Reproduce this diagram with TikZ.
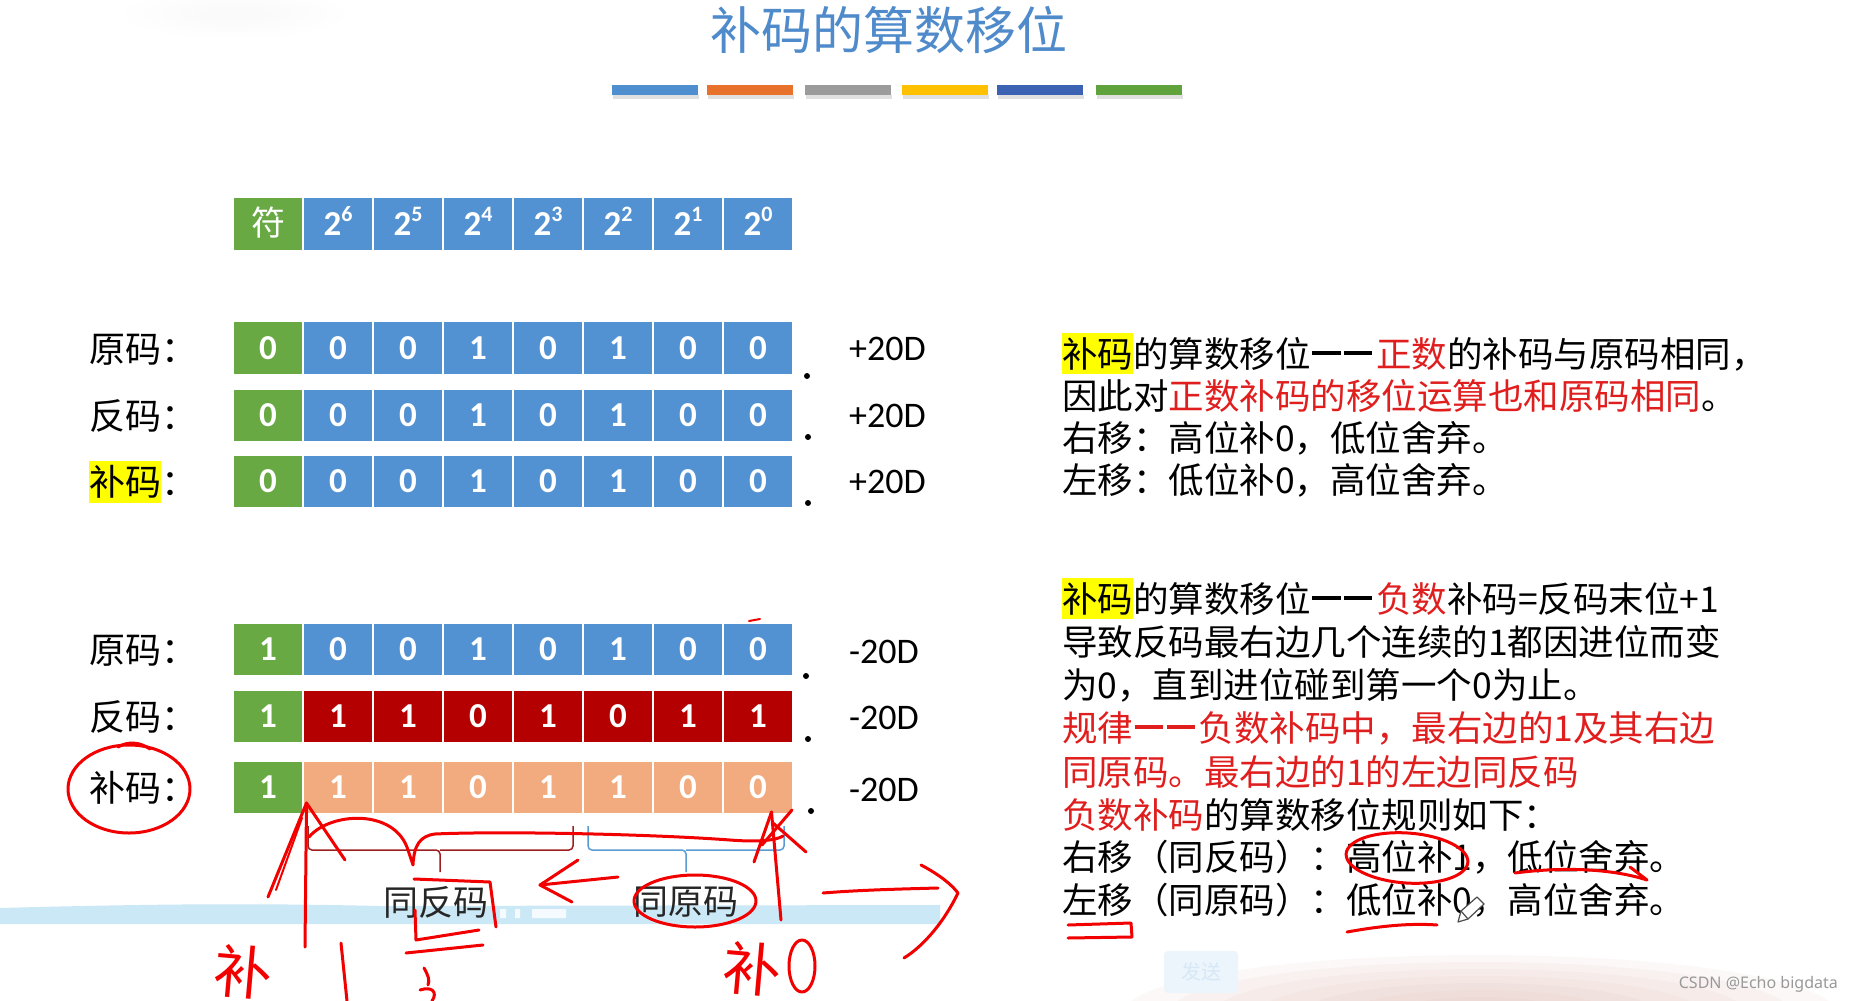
\documentclass[tikz,border=0pt]{standalone}
\usepackage{fontspec}
\setmainfont{Carlito}
\newfontfamily\cjk{Noto Sans CJK SC}
\newfontfamily\wmfont{Noto Sans}
\definecolor{cgreen}{HTML}{68A944}
\definecolor{cblue}{HTML}{5392D2}
\definecolor{cdred}{HTML}{B40000}
\definecolor{corange}{HTML}{F1AB7F}
\definecolor{titleblue}{HTML}{4F8BCB}
\definecolor{hly}{HTML}{FFFF00}
\definecolor{txtred}{HTML}{E01E1E}
\definecolor{annred}{HTML}{F20000}
\definecolor{bandblue}{HTML}{CBE8F6}
\definecolor{pinkblur}{HTML}{E2BDB3}
\definecolor{bracered}{HTML}{9E1F1F}
\definecolor{braceblue}{HTML}{5B9BD5}
\definecolor{bar1}{HTML}{4F8FD0}
\definecolor{bar2}{HTML}{E8722B}
\definecolor{bar3}{HTML}{9B9B9B}
\definecolor{bar4}{HTML}{FFC000}
\definecolor{bar5}{HTML}{3B62B3}
\definecolor{bar6}{HTML}{60A33D}
\newcommand\hlbox[1]{{\setlength{\fboxsep}{0pt}\colorbox{hly}{\rule[-0.2em]{0pt}{1.15em}#1}}}
\newcommand\rd[1]{\textcolor{txtred}{#1}}
\newcommand\ddash{\hspace{0.04em}\rule[0.33em]{0.8em}{0.11em}\hspace{0.1em}\rule[0.33em]{0.8em}{0.11em}\hspace{0.1em}}
\newcommand\bitrow[5]{%
  \node[cell, fill=cgreen] (#1c0) at (268,#2) {#4};
  \foreach \v [count=\i] in {#5} {\node[cell, fill=#3] (#1c\i) at ({268+70*\i},#2) {\v};}
}
\tikzset{
  cell/.style={rectangle, draw=white, line width=1.2pt, minimum width=70pt, minimum height=53pt,
    inner sep=0pt, text=white, text height=22pt, text depth=0pt, font=\bfseries\fontsize{35}{35}\selectfont},
  lab/.style={anchor=base west, inner sep=0pt, font=\cjk\fontsize{36}{40}\selectfont},
  val/.style={anchor=base west, inner sep=0pt, font=\fontsize{36}{40}\selectfont},
  txtline/.style={anchor=base west, inner sep=0pt, font=\cjk\fontsize{35.5}{40}\selectfont},
  dotm/.style={circle, fill=black, inner sep=0pt, minimum size=6pt},
  bracelab/.style={inner sep=0pt, font=\cjk\fontsize{35}{40}\selectfont, text=black!85},
  ann/.style={draw=annred, line width=3pt, line cap=round, line join=round},
  hand/.style={inner sep=0pt, text=annred, font=\cjk\fontsize{58}{60}\selectfont},
}
\begin{document}
\begin{tikzpicture}[x=1pt,y=-1pt]
\useasboundingbox (0,0) rectangle (1853,1001);
\fill[white] (0,0) rectangle (1853,1001);
% faint smudge top-left
\foreach \r in {1,...,5}{\fill[black, opacity=0.005] (235,14) ellipse [x radius=20+18*\r, y radius=4+4*\r];}
% pink blur bottom right
\foreach \r in {1,...,7}{\fill[pinkblur, opacity=0.10] (1480,1012) ellipse [x radius=40+45*\r, y radius=8+7*\r];}
% faint button
\node[fill={rgb,255:red,236;green,245;blue,252}, rounded corners=4pt, minimum width=74pt, minimum height=42pt,
  text={rgb,255:red,214;green,231;blue,246}, font=\cjk\fontsize{20}{22}\selectfont] (send) at (1201,972) {发送};

% title
\node[font=\cjk\fontsize{51}{55}\selectfont, text=titleblue, inner sep=0pt] (title) at (889,30) {补码的算数移位};
% colour bars
\foreach \x/\c in {612/bar1,707/bar2,805/bar3,902/bar4,997/bar5,1096/bar6}
  {\fill[black!12] (\x+1,95) rectangle (\x+87,99); \fill[\c] (\x,85) rectangle (\x+86,95);}

% header row
\node[cell, fill=cgreen, font=\cjk\fontsize{34}{34}\selectfont] (hc0) at (268,224) {符};
\foreach \e [count=\i] in {6,5,4,3,2,1,0}
  {\node[cell, fill=cblue] (hc\i) at ({268+70*\i},224) {2\raisebox{0.4em}{\fontsize{22}{22}\selectfont\e}};}

% bit rows
\bitrow{ra}{348}{cblue}{0}{0,0,1,0,1,0,0}
\bitrow{rb}{415.5}{cblue}{0}{0,0,1,0,1,0,0}
\bitrow{rc}{481.5}{cblue}{0}{0,0,1,0,1,0,0}
\bitrow{rd}{649.5}{cblue}{1}{0,0,1,0,1,0,0}
\bitrow{re}{716.5}{cdred}{1}{1,1,0,1,0,1,1}
\bitrow{rf}{787.5}{corange}{1}{1,1,0,1,1,0,0}

% row labels
\node[lab] (la) at (89,362) {原码：};
\node[lab] (lb) at (89,429.5) {反码：};
\node[lab] (lc) at (89,495.5) {\hlbox{补码}：};
\node[lab] (ld) at (89,663.5) {原码：};
\node[lab] (le) at (89,730.5) {反码：};
\node[lab] (lf) at (89,801.5) {补码：};

% dots
\node[dotm] (da) at (807,376) {};
\node[dotm] (db) at (808,437) {};
\node[dotm] (dc) at (808,503) {};
\node[dotm] (dd) at (806,676) {};
\node[dotm] (de) at (808,739) {};
\node[dotm] (df) at (811,811) {};

% values
\node[val] (va) at (849,360) {+20D};
\node[val] (vb) at (849,427.5) {+20D};
\node[val] (vc) at (849,493.5) {+20D};
\node[val] (vd) at (849,663.5) {-20D};
\node[val] (ve) at (849,729.5) {-20D};
\node[val] (vf) at (849,801.5) {-20D};

% band
\fill[bandblue] (0,908) .. controls (150,904) and (250,903) .. (380,906) -- (940,905) -- (940,924) -- (0,924) -- cycle;
\fill[white, opacity=0.8] (500,909) rectangle (506,918) (515,909) rectangle (520,918) (532,909) rectangle (566,918);

% braces
\coordinate (bal) at (308,826); \coordinate (bar) at (573,826); \coordinate (bac) at (440,872);
\coordinate (bbl) at (588,826); \coordinate (bbr) at (784,826); \coordinate (bbc) at (686,872);
\draw[bracered, line width=1.5pt, rounded corners=4pt] (bal) |- (bac |- 0,850) -- (bac);
\draw[bracered, line width=1.5pt, rounded corners=4pt] (bar) |- (bac |- 0,850);
\draw[braceblue, line width=1.5pt, rounded corners=4pt] (bbl) |- (bbc |- 0,850) -- (bbc);
\draw[braceblue, line width=1.5pt, rounded corners=4pt] (bbr) |- (bbc |- 0,850);
\node[bracelab] (tfan) at (436,902) {同反码};
\node[bracelab] (tyuan) at (686,902) {同原码};

% right text, block 1
\node[txtline] (ta) at (1062,367) {\hlbox{补码}的算数移位\ddash\rd{正数}的补码与原码相同，};
\node[txtline] (tb) at (1062,409.5) {因此对\rd{正数补码的移位运算也和原码相同}。};
\node[txtline] (tc) at (1062,451.5) {右移：高位补0，低位舍弃。};
\node[txtline] (td) at (1062,493) {左移：低位补0，高位舍弃。};
% right text, block 2
\node[txtline] (tm1) at (1062,612) {\hlbox{补码}的算数移位\ddash\rd{负数}补码=反码末位+1};
\node[txtline] (tm2) at (1062,655) {导致反码最右边几个连续的1都因进位而变};
\node[txtline] (tm3) at (1062,698) {为0，直到进位碰到第一个0为止。};
\node[txtline] (tm4) at (1062,741) {\rd{规律\ddash 负数补码中，最右边的1及其右边}};
\node[txtline] (tm5) at (1062,785) {\rd{同原码。最右边的1的左边同反码}};
\node[txtline] (tm6) at (1062,828) {\rd{负数补码}的算数移位规则如下：};
\node[txtline] (tm7) at (1062,870) {右移（同反码）：高位补1，低位舍弃。};
\node[txtline] (tm8) at (1062,913) {左移（同原码）：低位补0，高位舍弃。};

% watermark
\node[anchor=base east, inner sep=0pt, text=black!40, font=\wmfont\fontsize{16}{18}\selectfont] (wm) at (1838,988) {CSDN @Echo bigdata};

% ---- hand-drawn red annotations ----
\draw[ann] (129,789) ellipse [x radius=61, y radius=44];
\draw[ann] (118,747) .. controls (128,741) and (140,742) .. (150,749);
\draw[ann, line width=2pt] (749,621) -- (760,619);
% left up arrow
\draw[ann] (305,947) -- (306.5,803);
\draw[ann] (268,897) -- (306.5,803) -- (345,860);
\draw[ann, line width=2pt] (276,890) -- (302,818);
% hump and long line
\draw[ann] (309,837) .. controls (330,812) and (395,808) .. (408,850) -- (413,865)
  .. controls (414,845) and (420,836) .. (435,834) .. controls (500,831) and (650,834) .. (730,840)
  .. controls (755,842) and (775,841) .. (783,836);
% right up arrow
\draw[ann] (781,920) -- (771.5,812);
\draw[ann] (754,862) -- (771.5,812);
\draw[ann] (792,810) -- (762,845);
\draw[ann] (773,823) -- (806,852);
% left arrow
\draw[ann] (618,877) -- (540,885);
\draw[ann] (578,860) -- (540,885) -- (572,902);
% bracket marks under 同反码
\draw[ann] (414,879) -- (490,882) -- (496,927);
\draw[ann] (415,910) -- (416,940) -- (479,930);
\draw[ann] (406,953) -- (483,945);
% ellipse round 同原码
\draw[ann] (695,901) ellipse [x radius=61, y radius=26];
% right arrow
\draw[ann] (823,893) .. controls (860,890) and (900,889) .. (938,888);
\draw[ann] (921,865) .. controls (940,875) and (952,885) .. (958,893) .. controls (945,920) and (925,945) .. (904,958);
% handwriting at bottom
\node[hand, rotate=-5] (hbu1) at (243,972) {补};
\draw[ann] (341,943) -- (347,1001);
\draw[ann] (424,968) .. controls (428,975) and (430,980) .. (428,985);
\draw[ann] (420,990) .. controls (432,986) and (438,992) .. (432,1001);
\node[hand, rotate=-5] (hbu2) at (752,969) {补};
\draw[ann] (802,966) ellipse [x radius=13, y radius=26];
% right side annotations
\draw[ann, rotate around={-4:(1407,858)}] (1407,858) ellipse [x radius=61, y radius=25];
\draw[ann] (1515,873) .. controls (1560,867) and (1610,868) .. (1647,880) -- (1630,867);
\draw[ann] (1347,932) .. controls (1380,926) and (1410,923) .. (1437,925);
\draw[ann] (1068,925) -- (1131,923) -- (1132,937) (1068,938) -- (1132,937);
% pencil cursor
\draw[black!70, line width=1.2pt, line join=round, fill=white]
  (1458,922) -- (1461,911) -- (1477,897) -- (1484,904) -- (1468,919) -- cycle;
\draw[black!70, line width=1.2pt] (1461,911) -- (1468,919);
\end{tikzpicture}
\end{document}
